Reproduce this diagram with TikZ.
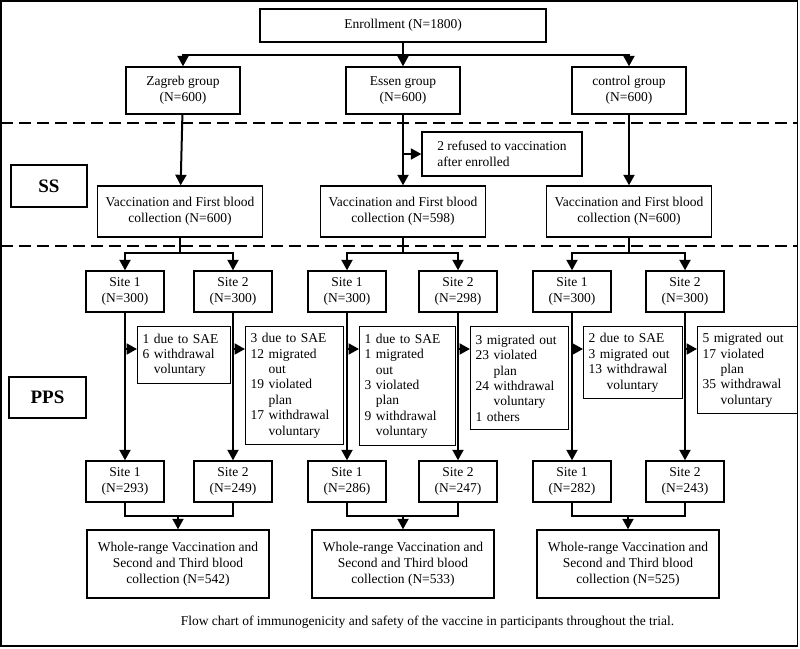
\documentclass[tikz,border=0pt]{standalone}
\usepackage{fontspec}
\setmainfont{Liberation Serif}
\usetikzlibrary{arrows.meta}

\tikzset{
  box/.style={draw,line width=1.4pt,inner sep=0pt,align=center,
    font=\fontsize{13.5}{16}\selectfont},
  groupbox/.style={box,minimum width=114pt,minimum height=47pt},
  vacbox/.style={box,minimum width=165pt,minimum height=51pt},
  sitebox/.style={box,minimum width=78pt,minimum height=41pt},
  wholebox/.style={box,minimum width=182pt,minimum height=68pt},
  setbox/.style={box,minimum width=76pt,minimum height=42pt,
    font=\fontsize{19}{22}\selectfont\bfseries},
  reason/.style={box,anchor=north west,align=left,inner xsep=5pt,inner ysep=4pt,
    font=\fontsize{13.5}{15.4}\selectfont},
  arr/.style={line width=2pt,-{Triangle[length=10.5pt,width=11pt]}},
  link/.style={line width=2pt},
  divider/.style={line width=1.5pt,dash pattern=on 12pt off 6pt},
}

\begin{document}
\begin{tikzpicture}[x=1pt,y=-1pt]
    \useasboundingbox (0,0) rectangle (800,648);
    \draw[line width=1.5pt] (1,1) rectangle (797.5,646);
    \draw[divider] (1,123) -- (797.5,123);
    \draw[divider] (1,246) -- (797.5,246);

    % groups
    \node[box,minimum width=286pt,minimum height=33pt] (enroll) at (403,25.5) {Enrollment (N=1800)};
    \node[groupbox] (zagreb) at (183,90.5) {Zagreb group\\(N=600)};
    \node[groupbox] (essen) at (403,90.5) {Essen group\\(N=600)};
    \node[groupbox] (control) at (629,90.5) {control group\\(N=600)};

    \node[setbox] (ss) at (49,186) {SS};
    \node[setbox,minimum width=77pt,minimum height=41pt] (pps) at (47.5,397.5) {PPS};

    % first vaccination
    \node[vacbox] (vaczg) at (180,211.5) {Vaccination and First blood\\collection (N=600)};
    \node[vacbox] (vaces) at (403,211.5) {Vaccination and First blood\\collection (N=598)};
    \node[vacbox] (vacct) at (629,211.5) {Vaccination and First blood\\collection (N=600)};
    \node[box,align=left,minimum width=160pt,minimum height=44pt] (refused) at (502,154)
      {2 refused to vaccination\\after enrolled};

    % sites before
    \node[sitebox] (zg1) at (125,291.5) {Site 1\\(N=300)};
    \node[sitebox] (zg2) at (233,291.5) {Site 2\\(N=300)};
    \node[sitebox] (es1) at (347,291.5) {Site 1\\(N=300)};
    \node[sitebox] (es2) at (458,291.5) {Site 2\\(N=298)};
    \node[sitebox] (ct1) at (572,291.5) {Site 1\\(N=300)};
    \node[sitebox] (ct2) at (685,291.5) {Site 2\\(N=300)};

    % drop outs
    \node[reason,text width=83pt,minimum height=57pt] (zg1r) at (137,326)
      {1 due to SAE\\6 withdrawal\\\phantom{6} voluntary};
    \node[reason,text width=88pt,minimum height=118pt] (zg2r) at (245,326)
      {3 due to SAE\\12 migrated\\\phantom{12} out\\19 violated\\\phantom{19} plan\\17 withdrawal\\\phantom{17} voluntary};
    \node[reason,text width=86pt,minimum height=119pt] (es1r) at (359,326)
      {1 due to SAE\\1 migrated\\\phantom{1} out\\3 violated\\\phantom{3} plan\\9 withdrawal\\\phantom{9} voluntary};
    \node[reason,text width=88pt,minimum height=103pt] (es2r) at (470,326)
      {3 migrated out\\23 violated\\\phantom{23} plan\\24 withdrawal\\\phantom{24} voluntary\\1 others};
    \node[reason,text width=89pt,minimum height=72pt] (ct1r) at (583,326)
      {2 due to SAE\\3 migrated out\\13 withdrawal\\\phantom{13} voluntary};
    \node[reason,text width=90pt,minimum height=87pt] (ct2r) at (697,326)
      {5 migrated out\\17 violated\\\phantom{17} plan\\35 withdrawal\\\phantom{35} voluntary};

    % sites after
    \node[sitebox] (zg1b) at (125,481.5) {Site 1\\(N=293)};
    \node[sitebox] (zg2b) at (233,481.5) {Site 2\\(N=249)};
    \node[sitebox] (es1b) at (347,481.5) {Site 1\\(N=286)};
    \node[sitebox] (es2b) at (458,481.5) {Site 2\\(N=247)};
    \node[sitebox] (ct1b) at (572,481.5) {Site 1\\(N=282)};
    \node[sitebox] (ct2b) at (685,481.5) {Site 2\\(N=243)};

    \node[wholebox] (wzg) at (178,564) {Whole-range Vaccination and\\Second and Third blood\\collection (N=542)};
    \node[wholebox] (wes) at (403,564) {Whole-range Vaccination and\\Second and Third blood\\collection (N=533)};
    \node[wholebox] (wct) at (628,564) {Whole-range Vaccination and\\Second and Third blood\\collection (N=525)};

    \node[font=\fontsize{13.5}{16}\selectfont] (caption) at (427.5,622)
      {Flow chart of immunogenicity and safety of the vaccine in participants throughout the trial.};

    % connectors
    \coordinate (split) at (403,55);
    \draw[arr] (enroll) -- (essen);
    \draw[arr] (split) -| (zagreb);
    \draw[arr] (split) -| (control);
    \draw[arr] (zagreb) -- (vaczg);
    \draw[arr] (essen) -- (vaces);
    \draw[arr] (control) -- (vacct);
    \draw[arr] (essen.south |- refused.west) -- (refused.west);

    \coordinate (zgsplit) at (180,253);
    \coordinate (essplit) at (403,253);
    \coordinate (ctsplit) at (629,253);
    \draw[link] (vaczg) -- (zgsplit);
    \draw[link] (vaces) -- (essplit);
    \draw[link] (vacct) -- (ctsplit);
    \draw[arr] (zgsplit) -| (zg1);
    \draw[arr] (zgsplit) -| (zg2);
    \draw[arr] (essplit) -| (es1);
    \draw[arr] (essplit) -| (es2);
    \draw[arr] (ctsplit) -| (ct1);
    \draw[arr] (ctsplit) -| (ct2);

    \coordinate (cut) at (0,349);
    \draw[arr] (zg1 |- cut) -- (zg1r.west |- cut);
    \draw[arr] (zg2 |- cut) -- (zg2r.west |- cut);
    \draw[arr] (es1 |- cut) -- (es1r.west |- cut);
    \draw[arr] (es2 |- cut) -- (es2r.west |- cut);
    \draw[arr] (ct1 |- cut) -- (ct1r.west |- cut);
    \draw[arr] (ct2 |- cut) -- (ct2r.west |- cut);

    \draw[arr] (zg1) -- (zg1b);
    \draw[arr] (zg2) -- (zg2b);
    \draw[arr] (es1) -- (es1b);
    \draw[arr] (es2) -- (es2b);
    \draw[arr] (ct1) -- (ct1b);
    \draw[arr] (ct2) -- (ct2b);

    \coordinate (zgjoin) at (178,516);
    \coordinate (esjoin) at (403,516);
    \coordinate (ctjoin) at (628,516);
    \draw[link] (zg1b) |- (zgjoin) -| (zg2b);
    \draw[link] (es1b) |- (esjoin) -| (es2b);
    \draw[link] (ct1b) |- (ctjoin) -| (ct2b);
    \draw[arr] (zgjoin) -- (wzg);
    \draw[arr] (esjoin) -- (wes);
    \draw[arr] (ctjoin) -- (wct);
  \end{tikzpicture}
\end{document}
